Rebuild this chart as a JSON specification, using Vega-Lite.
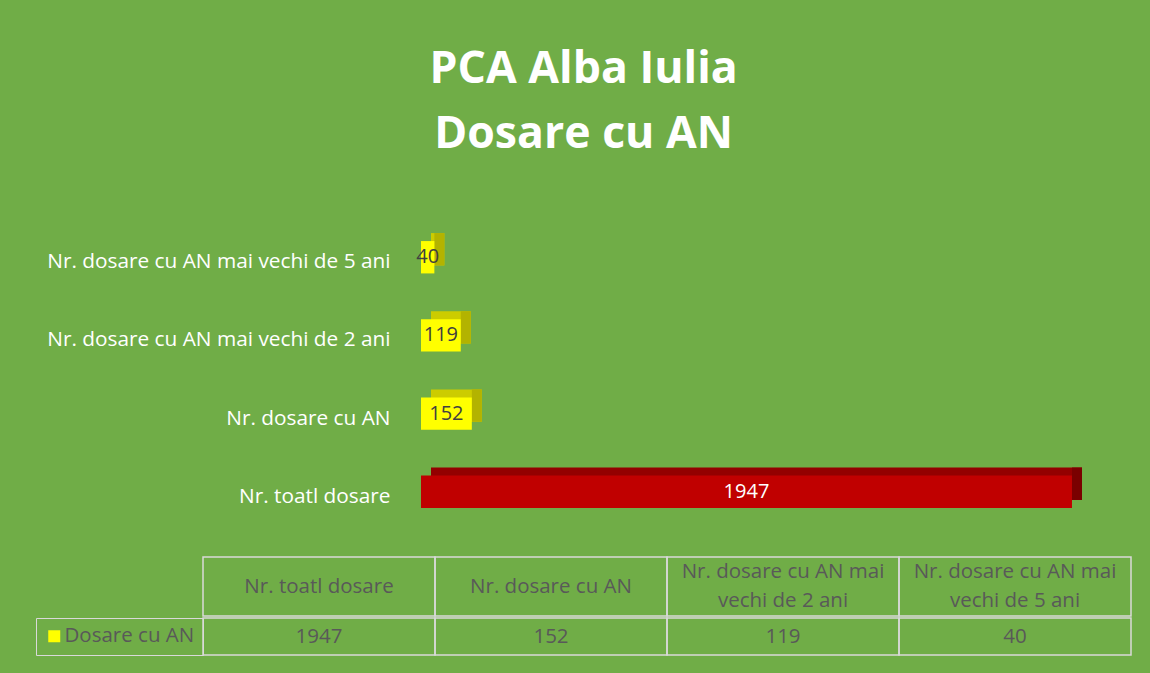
{
  "$schema": "https://vega.github.io/schema/vega-lite/v6.json",
  "background": "#70AD47",
  "padding": {"left": 35, "top": 47, "right": 19, "bottom": 20},
  "title": {
    "text": ["PCA Alba Iulia", "Dosare cu AN"],
    "font": "Open Sans",
    "fontSize": 44.6,
    "fontWeight": "bold",
    "color": "#FFFFFF",
    "lineHeight": 65,
    "anchor": "middle",
    "offset": 33
  },
  "datasets": {
    "main": [
      {"category": "Nr. toatl dosare", "header": "Nr. toatl dosare", "value": 1947, "series": "Dosare cu AN"},
      {"category": "Nr. dosare cu AN", "header": "Nr. dosare cu AN", "value": 152, "series": "Dosare cu AN"},
      {"category": "Nr. dosare cu AN mai vechi de 2 ani", "header": "Nr. dosare cu AN mai\nvechi de 2 ani", "value": 119, "series": "Dosare cu AN"},
      {"category": "Nr. dosare cu AN mai vechi de 5 ani", "header": "Nr. dosare cu AN mai\nvechi de 5 ani", "value": 40, "series": "Dosare cu AN"}
    ]
  },
  "spacing": 0,
  "resolve": {"legend": {"color": "independent"}},
  "vconcat": [
    {
      "data": {"name": "main"},
      "width": 928,
      "height": 365,
      "encoding": {
        "y": {
          "field": "category",
          "type": "nominal",
          "sort": ["Nr. dosare cu AN mai vechi de 5 ani", "Nr. dosare cu AN mai vechi de 2 ani", "Nr. dosare cu AN", "Nr. toatl dosare"],
          "scale": {"paddingInner": 0.586, "paddingOuter": 0.628, "align": 0.51},
          "axis": {
            "title": null,
            "domain": false,
            "ticks": false,
            "tickSize": 0,
            "labelPadding": -187,
            "labelOffset": 5,
            "labelFont": "Open Sans",
            "labelFontSize": 20.8,
            "labelColor": "#FFFFFF",
            "labelLimit": 0
          }
        }
      },
      "layer": [
        {
          "mark": {"type": "bar", "xOffset": 10, "x2Offset": 10, "yOffset": -8, "y2Offset": -8},
          "encoding": {
            "x": {"field": "value", "type": "quantitative", "scale": {"domain": [-652, 2123.5], "nice": false}, "axis": null},
            "color": {"condition": {"test": "datum.category === 'Nr. toatl dosare'", "value": "#930000"}, "value": "#CCCC00"}
          }
        },
        {
          "mark": {"type": "bar", "x2Offset": 10, "yOffset": -8, "y2Offset": -8},
          "encoding": {
            "x": {"field": "value", "type": "quantitative"},
            "x2": {"field": "value"},
            "color": {"condition": {"test": "datum.category === 'Nr. toatl dosare'", "value": "#7A0000"}, "value": "#B3B300"}
          }
        },
        {
          "mark": {"type": "bar"},
          "encoding": {
            "x": {"field": "value", "type": "quantitative"},
            "color": {"condition": {"test": "datum.category === 'Nr. toatl dosare'", "value": "#C00000"}, "value": "#FFFF00"}
          }
        },
        {
          "transform": [{"calculate": "datum.value / 2", "as": "mid"}],
          "mark": {"type": "text", "font": "Open Sans", "fontSize": 20, "align": "center", "baseline": "middle"},
          "encoding": {
            "x": {"field": "mid", "type": "quantitative"},
            "text": {"field": "value", "type": "quantitative", "format": "d"},
            "color": {"condition": {"test": "datum.category === 'Nr. toatl dosare'", "value": "#FFFFFF"}, "value": "#404040"}
          }
        }
      ]
    },
    {
      "data": {"name": "main"},
      "width": 928,
      "height": 59,
      "encoding": {
        "x": {
          "field": "category",
          "type": "nominal",
          "sort": ["Nr. toatl dosare", "Nr. dosare cu AN", "Nr. dosare cu AN mai vechi de 2 ani", "Nr. dosare cu AN mai vechi de 5 ani"],
          "scale": {"paddingInner": 0, "paddingOuter": 0},
          "axis": null
        }
      },
      "layer": [
        {"mark": {"type": "rect", "filled": false, "stroke": "#D9D9D9", "strokeWidth": 1.5}},
        {
          "transform": [{"filter": "indexof(datum.header, '\\n') < 0"}],
          "mark": {"type": "text", "font": "Open Sans", "fontSize": 20.5, "color": "#595959", "align": "center", "baseline": "middle"},
          "encoding": {"text": {"field": "header", "type": "nominal"}}
        },
        {
          "transform": [{"filter": "indexof(datum.header, '\\n') >= 0"}],
          "mark": {"type": "text", "font": "Open Sans", "fontSize": 20.5, "color": "#595959", "lineBreak": "\n", "lineHeight": 29, "align": "center", "baseline": "middle", "dy": -14.5},
          "encoding": {"text": {"field": "header", "type": "nominal"}}
        }
      ]
    },
    {
      "data": {"name": "main"},
      "width": 928,
      "height": 37,
      "encoding": {
        "x": {
          "field": "category",
          "type": "nominal",
          "sort": ["Nr. toatl dosare", "Nr. dosare cu AN", "Nr. dosare cu AN mai vechi de 2 ani", "Nr. dosare cu AN mai vechi de 5 ani"],
          "scale": {"paddingInner": 0, "paddingOuter": 0},
          "axis": null
        }
      },
      "layer": [
        {"mark": {"type": "rect", "filled": false, "stroke": "#D9D9D9", "strokeWidth": 1.5}},
        {
          "mark": {"type": "text", "font": "Open Sans", "fontSize": 20.5, "color": "#595959", "align": "center", "baseline": "middle"},
          "encoding": {"text": {"field": "value", "type": "quantitative", "format": "d"}}
        },
        {
          "mark": {"type": "text"},
          "encoding": {
            "text": {"value": ""},
            "color": {
              "field": "series",
              "type": "nominal",
              "scale": {"range": ["#FFFF00"]},
              "legend": {
                "orient": "left",
                "title": null,
                "offset": 0,
                "symbolType": "square",
                "symbolSize": 144,
                "symbolStrokeWidth": 0,
                "symbolOpacity": 1,
                "labelFont": "Open Sans",
                "labelFontSize": 20.5,
                "labelColor": "#595959",
                "labelOffset": 0,
                "padding": 8,
                "strokeColor": "#D9D9D9"
              }
            }
          }
        }
      ]
    }
  ],
  "config": {"view": {"stroke": null}}
}
